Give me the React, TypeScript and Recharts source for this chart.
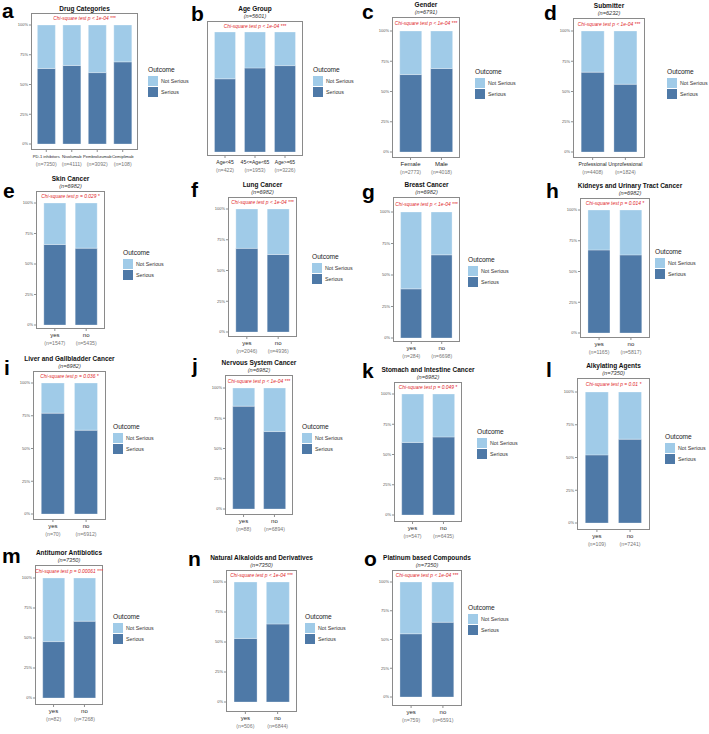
import { BarChart, Bar, XAxis, YAxis } from 'recharts'

const SERIOUS = '#4E79A7'
const NOT_SERIOUS = '#A0CBE8'
const FONT = '"Liberation Sans", Arial, Helvetica, sans-serif'

// ---- data (share of reports, %) ----
const drugCats = ['PD-1 inhibitors', 'Nivolumab', 'Pembrolizumab', 'Cemiplimab']
const drugN = [7350, 4111, 3092, 108]
const drugSerious = [63.5, 66, 60, 69]
const drugNotSerious = [36.5, 34, 40, 31]

const ageCats = ['Age<45', '45<=Age<65', 'Age>=65']
const ageN = [422, 1953, 3226]
const ageSerious = [61, 70, 72]
const ageNotSerious = [39, 30, 28]

const genderCats = ['Female', 'Male']
const genderN = [2773, 4018]
const genderSerious = [64, 69]
const genderNotSerious = [36, 31]

const submitterCats = ['Professional', 'Unprofessional']
const submitterN = [4408, 1824]
const submitterSerious = [66, 56]
const submitterNotSerious = [34, 44]

const yesNo = ['yes', 'no']

const skinN = [1547, 5435]
const skinSerious = [66, 63]
const skinNotSerious = [34, 37]

const lungN = [2046, 4936]
const lungSerious = [68, 63]
const lungNotSerious = [32, 37]

const breastN = [284, 6698]
const breastSerious = [39, 66]
const breastNotSerious = [61, 34]

const kidneyN = [1165, 5817]
const kidneySerious = [67.5, 63.5]
const kidneyNotSerious = [32.5, 36.5]

const liverN = [70, 6912]
const liverSerious = [77, 64]
const liverNotSerious = [23, 36]

const nervousN = [88, 6894]
const nervousSerious = [85, 64]
const nervousNotSerious = [15, 36]

const stomachN = [547, 6435]
const stomachSerious = [60, 64.5]
const stomachNotSerious = [40, 35.5]

const alkylN = [109, 7241]
const alkylSerious = [52, 64]
const alkylNotSerious = [48, 36]

const antibioticN = [82, 7268]
const antibioticSerious = [47, 64]
const antibioticNotSerious = [53, 36]

const alkaloidN = [506, 6844]
const alkaloidSerious = [53, 65]
const alkaloidNotSerious = [47, 35]

const platinumN = [759, 6591]
const platinumSerious = [55, 65]
const platinumNotSerious = [45, 35]

const yTicks = [0, 25, 50, 75, 100]

// ---- layout: plot box, pixel rows of 100% / 0%, legend and letter spots ----
type Lay = {
  box: [number, number, number, number]
  yTop: number
  yBot: number
  legend: [number, number]
  letter: [number, number]
  titleX?: number
  catSize?: number
  showY?: boolean
}

const lay: Record<string, Lay> = {
  a: { box: [31, 13, 138, 150], yTop: 25, yBot: 144, legend: [148, 70], letter: [2, 18], catSize: 4.1 },
  b: { box: [207, 21, 303, 156], yTop: 32, yBot: 152, legend: [313, 70], letter: [191, 21], catSize: 5, showY: false },
  c: { box: [392, 17, 460, 158], yTop: 31, yBot: 152, legend: [475, 72], letter: [362, 19] },
  d: { box: [573, 18, 645, 158], yTop: 31, yBot: 152, legend: [667, 72], letter: [544, 20], catSize: 5.1 },
  e: { box: [36, 191, 105, 329], yTop: 203, yBot: 325, legend: [123, 253], letter: [3, 198] },
  f: { box: [228, 197, 297, 337], yTop: 209, yBot: 332, legend: [312, 257], letter: [191, 197] },
  g: { box: [393, 197, 460, 342], yTop: 212, yBot: 338, legend: [468, 260], letter: [362, 199] },
  h: { box: [580, 198, 650, 338], yTop: 210, yBot: 333, legend: [655, 252], letter: [546, 198], titleX: 630 },
  i: { box: [33, 371, 106, 520], yTop: 383, yBot: 514, legend: [113, 427], letter: [4, 375] },
  j: { box: [225, 375, 293, 515], yTop: 388, yBot: 509, legend: [302, 427], letter: [192, 373] },
  k: { box: [394, 382, 462, 522], yTop: 394, yBot: 515, legend: [477, 432], letter: [362, 378] },
  l: { box: [577, 378, 650, 530], yTop: 392, yBot: 523, legend: [665, 437], letter: [546, 377] },
  m: { box: [35, 565, 103, 705], yTop: 578, yBot: 698, legend: [113, 617], letter: [2, 563] },
  n: { box: [226, 570, 297, 712], yTop: 582, yBot: 702, legend: [305, 617], letter: [188, 566] },
  o: { box: [392, 570, 462, 706], yTop: 582, yBot: 697, legend: [468, 608], letter: [364, 566] },
}

type PanelProps = {
  id: string
  title: string
  sub?: string
  pText: string
  cats: string[]
  ns: number[]
  serious: number[]
  notSerious: number[]
}

function Panel({ id, title, sub, pText, cats, ns, serious, notSerious }: PanelProps) {
  const L = lay[id]
  const [x0, y0, x1, y1] = L.box
  const W = x1 - x0
  const H = y1 - y0
  const YW = 22
  const XH = 24
  const span = L.yBot - L.yTop
  const hi = (100 * (L.yBot - y0)) / span
  const lo = hi - (100 * H) / span
  const unit = W / (cats.length + 0.2)
  const catSize = L.catSize ?? 6
  const rows = cats.map((c, i) => ({ cat: c, serious: serious[i], notSerious: notSerious[i] }))
  const [lx, ly] = L.legend
  const tx = L.titleX ?? (x0 + x1) / 2

  const catTick = (p: any) => (
    <g>
      <text x={p.x} y={p.y + 4.5} textAnchor="middle" fontSize={catSize} fill="#262626" fontFamily={FONT}>
        {p.payload.value}
      </text>
      <text x={p.x} y={p.y + 13} textAnchor="middle" fontSize={5.2} fill="#777" fontFamily={FONT}>
        (n={ns[p.index]})
      </text>
    </g>
  )

  return (
    <>
      <div style={{ position: 'absolute', left: x0 - YW, top: y0 }}>
        <BarChart
          width={W + YW}
          height={H + XH}
          data={rows}
          margin={{ top: 0, right: 0, bottom: 0, left: 0 }}
          barCategoryGap="15%"
        >
          <XAxis
            dataKey="cat"
            height={XH}
            interval={0}
            axisLine={false}
            tickSize={2}
            tickMargin={1}
            tickLine={{ stroke: '#444', strokeWidth: 0.6 }}
            padding={{ left: unit * 0.1, right: unit * 0.1 }}
            tick={catTick}
          />
          <YAxis
            type="number"
            width={YW}
            domain={[lo, hi]}
            allowDataOverflow
            ticks={yTicks}
            axisLine={false}
            tickSize={2}
            tickMargin={1}
            tickLine={{ stroke: '#444', strokeWidth: 0.6 }}
            tick={L.showY === false ? false : { fontSize: 4, fill: '#555', fontFamily: FONT }}
            tickFormatter={(v: number) => `${v}%`}
          />
          <Bar dataKey="serious" stackId="s" fill={SERIOUS} stroke="#ffffff" strokeWidth={0.3} isAnimationActive={false} />
          <Bar dataKey="notSerious" stackId="s" fill={NOT_SERIOUS} stroke="#ffffff" strokeWidth={0.3} isAnimationActive={false} />
        </BarChart>
      </div>
      <svg
        width={709}
        height={734}
        style={{ position: 'absolute', left: 0, top: 0, pointerEvents: 'none' }}
        fontFamily={FONT}
      >
        <rect x={x0 + 0.5} y={y0 + 0.5} width={W - 1} height={H - 1} fill="none" stroke="#8a8a8a" strokeWidth={1} />
        <text x={L.letter[0]} y={L.letter[1]} fontSize={21} fontWeight={700} fill="#000">
          {id}
        </text>
        <text x={tx} y={sub ? y0 - 10.5 : y0 - 2.5} textAnchor="middle" fontSize={6.5} fontWeight={700} fill="#111">
          {title}
        </text>
        {sub && (
          <text x={tx} y={y0 - 3.5} textAnchor="middle" fontSize={5.6} fontStyle="italic" fill="#333">
            {sub}
          </text>
        )}
        <text x={(x0 + x1) / 2} y={y0 + (L.yTop - y0) * 0.6} textAnchor="middle" fontSize={4.9} fontStyle="italic" fill="#E0272B">
          {pText}
        </text>
        <text x={lx} y={ly + 2.3} fontSize={6.6} fill="#222">
          Outcome
        </text>
        <rect x={lx} y={ly + 6} width={10} height={10} fill={NOT_SERIOUS} />
        <rect x={lx} y={ly + 17} width={10} height={10} fill={SERIOUS} />
        <text x={lx + 13} y={ly + 12.8} fontSize={5.3} fill="#333">
          Not Serious
        </text>
        <text x={lx + 13} y={ly + 23.8} fontSize={5.3} fill="#333">
          Serious
        </text>
      </svg>
    </>
  )
}

const SIG = 'Chi-square test p  < 1e-04 ***'

export default function App() {
  return (
    <div style={{ position: 'absolute', left: 0, top: 0, width: 709, height: 734, background: '#fff', overflow: 'hidden', fontFamily: FONT }}>
      <Panel id="a" title="Drug Categories" pText={SIG} cats={drugCats} ns={drugN} serious={drugSerious} notSerious={drugNotSerious} />
      <Panel id="b" title="Age Group" sub="(n=5601)" pText={SIG} cats={ageCats} ns={ageN} serious={ageSerious} notSerious={ageNotSerious} />
      <Panel id="c" title="Gender" sub="(n=6791)" pText={SIG} cats={genderCats} ns={genderN} serious={genderSerious} notSerious={genderNotSerious} />
      <Panel id="d" title="Submitter" sub="(n=6232)" pText={SIG} cats={submitterCats} ns={submitterN} serious={submitterSerious} notSerious={submitterNotSerious} />
      <Panel id="e" title="Skin Cancer" sub="(n=6982)" pText="Chi-square test p = 0.029 *" cats={yesNo} ns={skinN} serious={skinSerious} notSerious={skinNotSerious} />
      <Panel id="f" title="Lung Cancer" sub="(n=6982)" pText={SIG} cats={yesNo} ns={lungN} serious={lungSerious} notSerious={lungNotSerious} />
      <Panel id="g" title="Breast Cancer" sub="(n=6982)" pText={SIG} cats={yesNo} ns={breastN} serious={breastSerious} notSerious={breastNotSerious} />
      <Panel id="h" title="Kidneys and Urinary Tract Cancer" sub="(n=6982)" pText="Chi-square test p = 0.014 *" cats={yesNo} ns={kidneyN} serious={kidneySerious} notSerious={kidneyNotSerious} />
      <Panel id="i" title="Liver and Gallbladder Cancer" sub="(n=6982)" pText="Chi-square test p = 0.036 *" cats={yesNo} ns={liverN} serious={liverSerious} notSerious={liverNotSerious} />
      <Panel id="j" title="Nervous System Cancer" sub="(n=6982)" pText={SIG} cats={yesNo} ns={nervousN} serious={nervousSerious} notSerious={nervousNotSerious} />
      <Panel id="k" title="Stomach and Intestine Cancer" sub="(n=6982)" pText="Chi-square test p = 0.049 *" cats={yesNo} ns={stomachN} serious={stomachSerious} notSerious={stomachNotSerious} />
      <Panel id="l" title="Alkylating Agents" sub="(n=7350)" pText="Chi-square test p = 0.01 *" cats={yesNo} ns={alkylN} serious={alkylSerious} notSerious={alkylNotSerious} />
      <Panel id="m" title="Antitumor Antibiotics" sub="(n=7350)" pText="Chi-square test p = 0.00061 ***" cats={yesNo} ns={antibioticN} serious={antibioticSerious} notSerious={antibioticNotSerious} />
      <Panel id="n" title="Natural Alkaloids and Derivatives" sub="(n=7350)" pText={SIG} cats={yesNo} ns={alkaloidN} serious={alkaloidSerious} notSerious={alkaloidNotSerious} />
      <Panel id="o" title="Platinum based Compounds" sub="(n=7350)" pText={SIG} cats={yesNo} ns={platinumN} serious={platinumSerious} notSerious={platinumNotSerious} />
    </div>
  )
}
